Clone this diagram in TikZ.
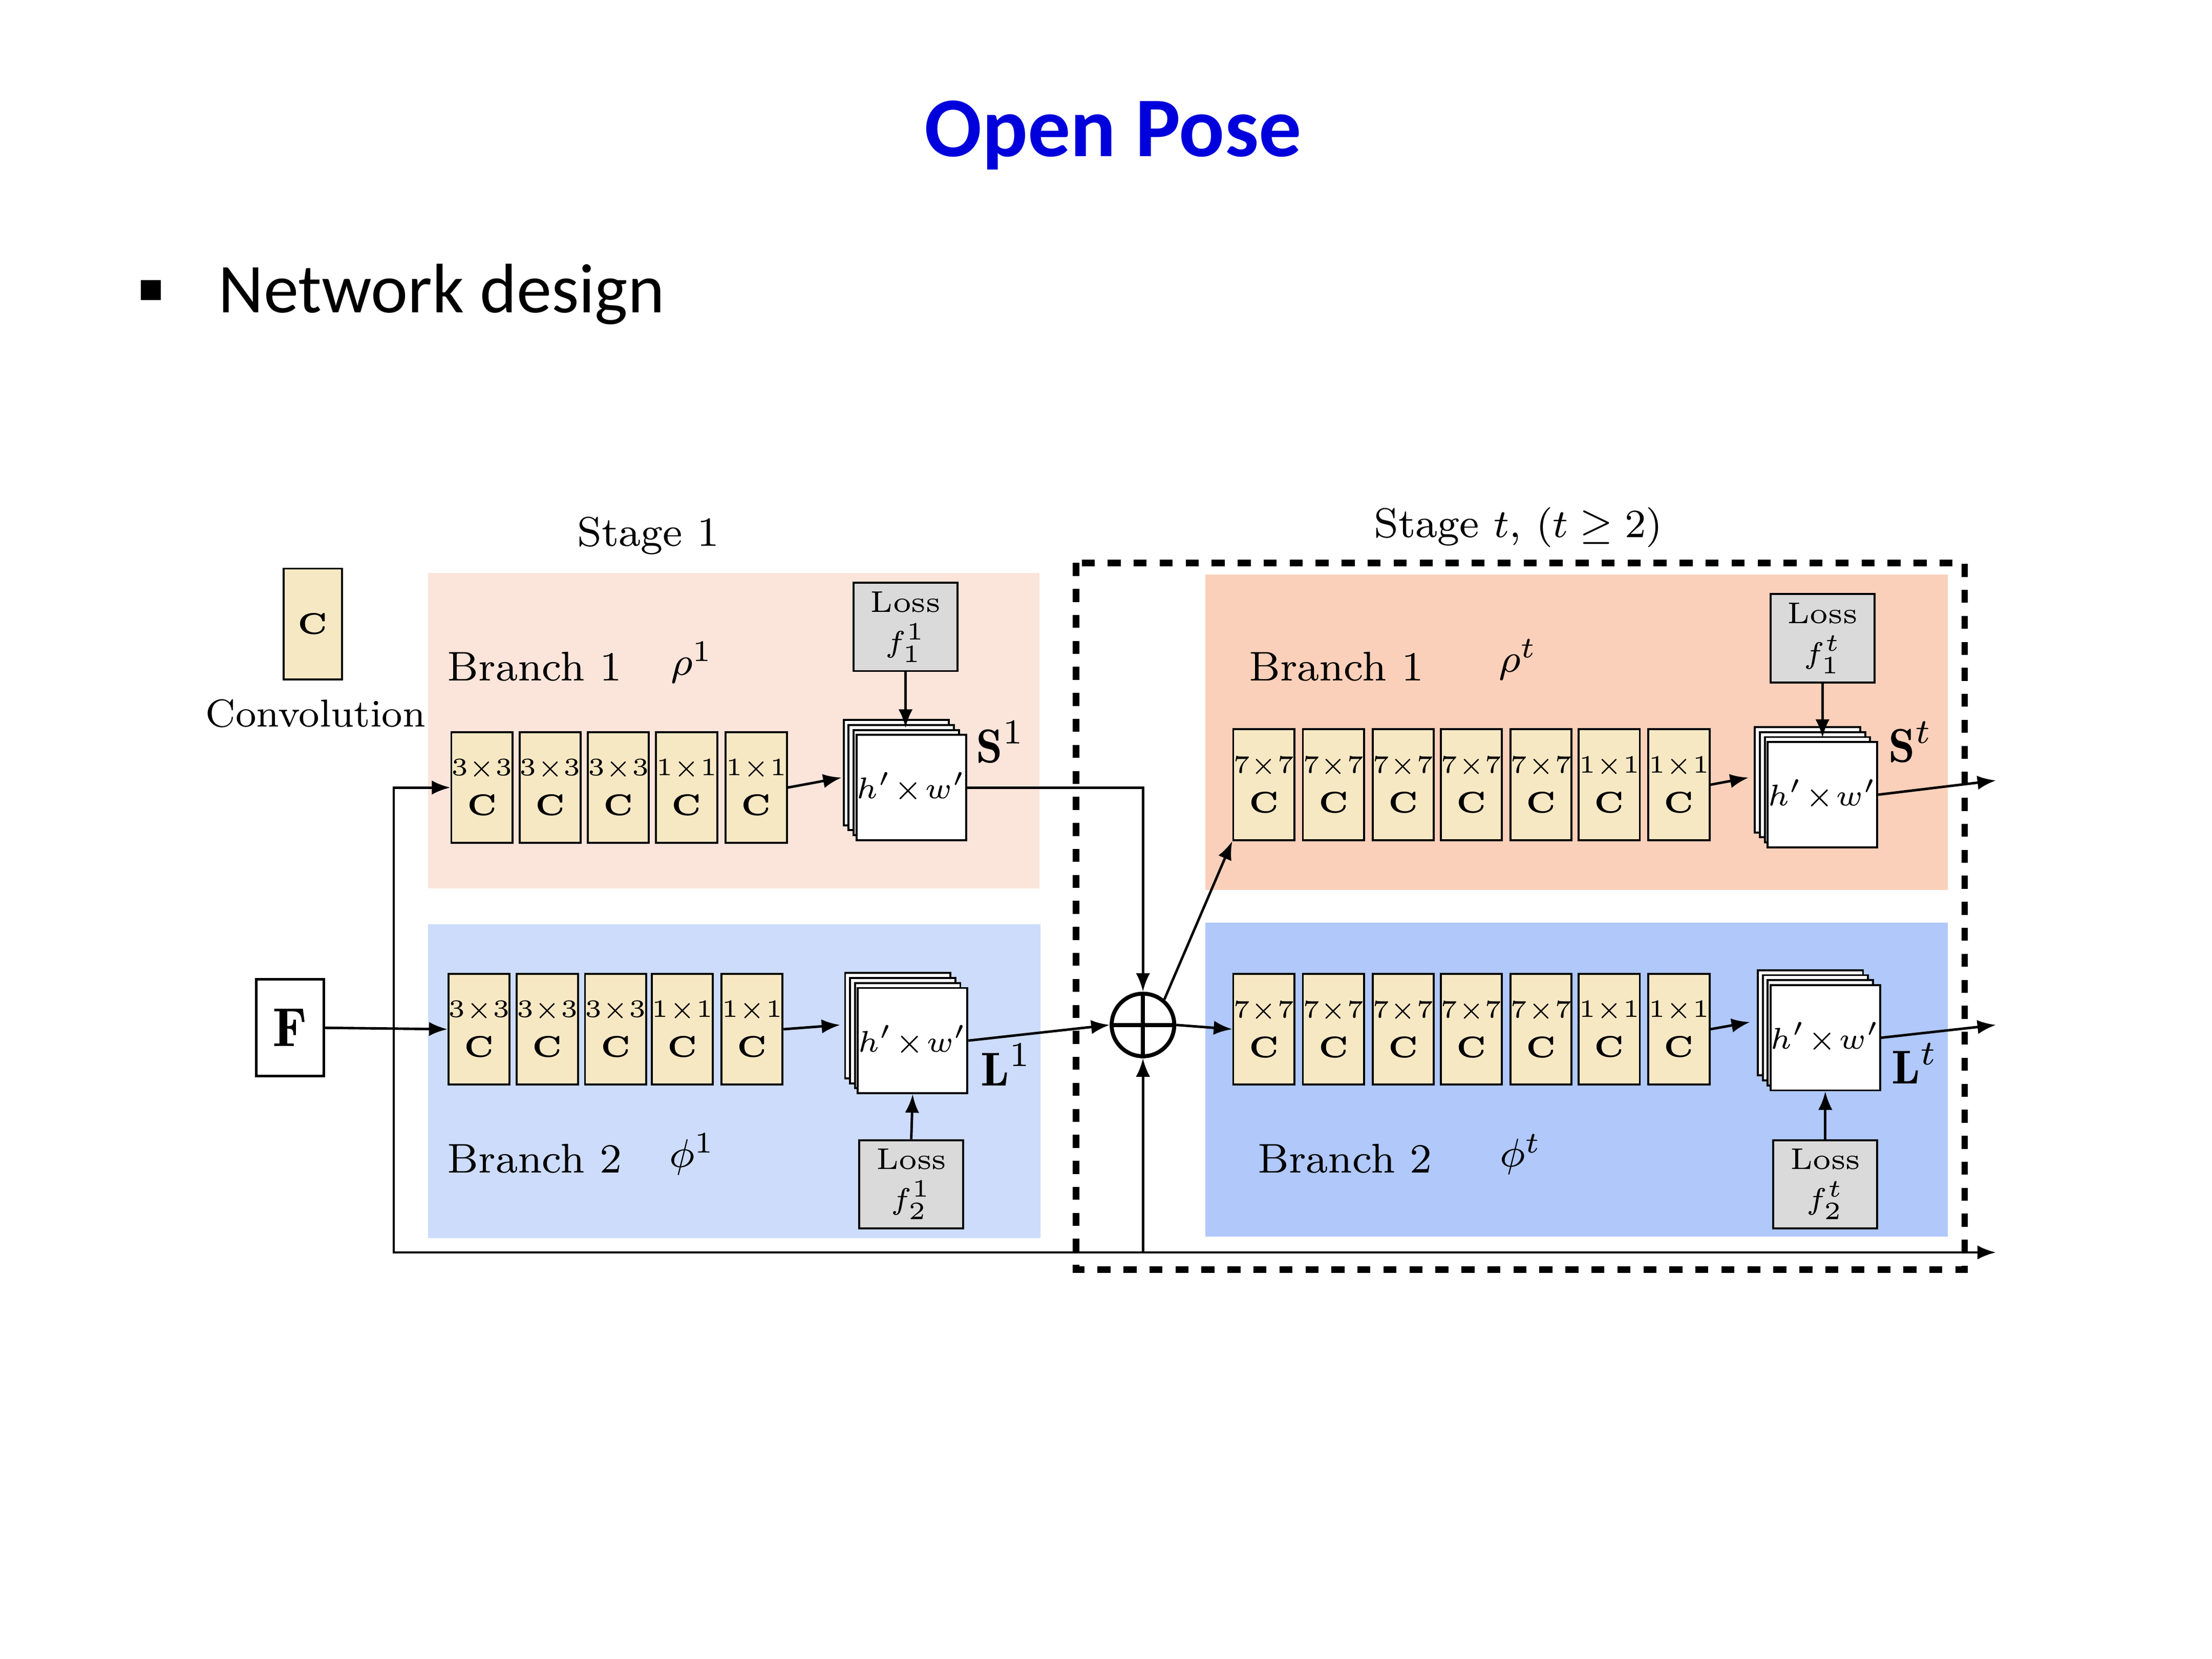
\documentclass[tikz,border=0pt]{standalone}
\usepackage{fontspec}
\usepackage{amsmath,amssymb}
\newfontfamily\calib{Carlito}
\usetikzlibrary{arrows.meta}
\definecolor{titleblue}{RGB}{0,0,220}
\definecolor{convc}{RGB}{247,232,196}
\definecolor{pinkA}{RGB}{251,228,218}
\definecolor{blueA}{RGB}{204,220,250}
\definecolor{pinkB}{RGB}{251,208,186}
\definecolor{blueB}{RGB}{176,200,250}
\definecolor{lossg}{RGB}{218,218,218}
\tikzset{
  conv/.style={draw,fill=convc,line width=0.4pt,minimum width=0.42cm,minimum height=0.78cm,inner sep=0pt,align=center,font=\fontsize{5}{6}\selectfont},
  hw/.style={draw,fill=white,line width=0.4pt,minimum width=0.74cm,minimum height=0.74cm,inner sep=0pt,font=\fontsize{6.5}{7}\selectfont},
  lossbox/.style={draw,fill=lossg,line width=0.4pt,minimum width=0.73cm,minimum height=0.62cm,inner sep=0pt,align=center,font=\fontsize{6}{6.5}\selectfont},
  lbl/.style={font=\fontsize{8.3}{10}\selectfont},
  arr/.style={line width=0.5pt,-{Latex[length=1.3mm,width=1mm]}},
  ln/.style={line width=0.5pt}
}
\newcommand\mystack[3]{%
  \foreach \k in {3,2,1}{\node[hw] at (#2-\k*3.5,#3-\k*3.5) {};}
  \node[hw] (#1) at (#2,#3) {$h'\!\times\! w'$};}
\newcommand\cv[1]{#1\\[2pt]{\fontsize{6}{7}\selectfont\textbf{C}}}
\begin{document}
\begin{tikzpicture}[x=0.01cm,y=-0.01cm]
\useasboundingbox (0,0) rectangle (1556,1167);
\fill[white] (0,0) rectangle (1556,1167);
% title
\node[font=\calib\bfseries\fontsize{17}{20}\selectfont,text=titleblue] (title) at (783,95) {Open Pose};
\fill (99,197) rectangle (113,211);
\node[font=\calib\fontsize{14}{16}\selectfont,anchor=west,inner sep=0pt] (nd) at (153,207) {Network design};
% legend
\node[conv,minimum width=0.41cm,font=\fontsize{6}{7}\selectfont] (leg) at (220,439) {\textbf{C}};
\node[lbl,font=\fontsize{7.8}{9}\selectfont] (legt) at (222,502) {Convolution};
% backgrounds
\fill[pinkA] (301,403) rectangle (731,625);
\fill[blueA] (301,650) rectangle (732,871);
\fill[pinkB] (848,404) rectangle (1370,626);
\fill[blueB] (848,649) rectangle (1370,870);
\draw[line width=1.3pt,dash pattern=on 2.6pt off 2.6pt] (757,396) rectangle (1382,893);
% labels
\node[lbl] (st1) at (456,377) {Stage 1};
\node[lbl] (stt) at (1068,371) {Stage $t$, $(t\geq 2)$};
\node[lbl] at (376,469) {Branch 1};
\node[lbl] at (487,466) {$\rho^1$};
\node[lbl] at (376,815) {Branch 2};
\node[lbl] at (487,812) {$\phi^1$};
\node[lbl] at (940,469) {Branch 1};
\node[lbl] at (1068,464) {$\rho^t$};
\node[lbl] at (946,815) {Branch 2};
\node[lbl] at (1070,812) {$\phi^t$};
% stage 1 convs
\foreach \i/\x/\t in {1/339/3$\times$3,2/387/3$\times$3,3/435/3$\times$3,4/483/1$\times$1,5/532/1$\times$1}
  \node[conv] (a\i) at (\x,554) {\cv{\t}};
\foreach \i/\x/\t in {1/337/3$\times$3,2/385/3$\times$3,3/433/3$\times$3,4/480/1$\times$1,5/529/1$\times$1}
  \node[conv] (b\i) at (\x,724) {\cv{\t}};
% stage t convs
\foreach \i/\x/\t in {1/889/7$\times$7,2/938/7$\times$7,3/987/7$\times$7,4/1035/7$\times$7,5/1084/7$\times$7,6/1132/1$\times$1,7/1181/1$\times$1}{
  \node[conv] (c\i) at (\x,552) {\cv{\t}};
  \node[conv] (d\i) at (\x,724) {\cv{\t}};}
% stacks
\mystack{s1}{641}{554}
\mystack{l1}{642}{732}
\mystack{st}{1282}{559}
\mystack{lt}{1284}{730}
\node[font=\fontsize{9.5}{10}\selectfont] at (704,522) {$\mathbf{S}^1$};
\node[font=\fontsize{9.5}{10}\selectfont] at (708,749) {$\mathbf{L}^1$};
\node[font=\fontsize{9.5}{10}\selectfont] at (1344,522) {$\mathbf{S}^t$};
\node[font=\fontsize{9.5}{10}\selectfont] at (1347,748) {$\mathbf{L}^t$};
% losses
\node[lossbox] (lo1) at (637,441) {Loss\\[1.5pt]$f_1^1$};
\node[lossbox] (lo2) at (641,833) {Loss\\[1.5pt]$f_2^1$};
\node[lossbox] (lo3) at (1282,449) {Loss\\[1.5pt]$f_1^t$};
\node[lossbox] (lo4) at (1284,833) {Loss\\[1.5pt]$f_2^t$};
\draw[arr] (lo1.south) -- (637,512);
\draw[arr] (lo2.north) -- (l1.south);
\draw[arr] (lo3.south) -- (1282,519);
\draw[arr] (lo4.north) -- (lt.south);
% conv to stack arrows
\draw[arr] (a5.east) -- (592,547);
\draw[arr] (b5.east) -- (591,721);
\draw[arr] (c7.east) -- (1230,547);
\draw[arr] (d7.east) -- (1231,719);
% F
\node[draw,fill=white,line width=0.5pt,minimum width=0.46cm,minimum height=0.68cm,font=\fontsize{11}{12}\selectfont] (F) at (204,723) {$\mathbf{F}$};
\coordinate (j1) at (277,723);
\coordinate (j2) at (277,881);
\coordinate (pj) at (804,881);
\coordinate (fend) at (1404,881);
\draw[arr] (F.east) -- (b1.west);
\draw[arr] (j1) |- (a1.west);
\draw[arr] (j1) -- (j2) -- (fend);
% plus
\node[draw,circle,line width=0.8pt,minimum size=0.44cm,inner sep=0pt] (plus) at (804,721) {};
\draw[line width=0.8pt] (plus.north) -- (plus.south) (plus.west) -- (plus.east);
\draw[arr] (s1.east) -| (plus.north);
\draw[arr] (l1.east) -- (plus.west);
\draw[arr] (pj) -- (plus.south);
\draw[arr] (plus.east) -- (d1.west);
\draw[arr] (plus.50) -- (c1.south west);
% outputs
\coordinate (o1) at (1404,549);
\coordinate (o2) at (1404,721);
\draw[arr] (st.east) -- (o1);
\draw[arr] (lt.east) -- (o2);
\end{tikzpicture}
\end{document}
